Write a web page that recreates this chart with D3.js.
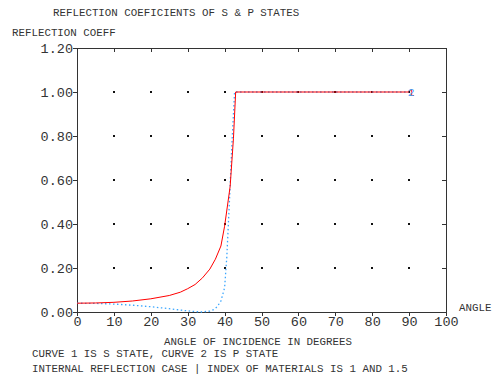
<!DOCTYPE html>
<html>
<head>
<meta charset="utf-8">
<script src="https://cdn.jsdelivr.net/npm/d3@7"></script>
<style>
  body { margin: 0; background: #fff; }
  svg text { font-family: "Liberation Mono", monospace; font-size: 10.8px; fill: #333; }
  .axis path, .axis line { stroke: #333; shape-rendering: crispEdges; }
</style>
</head>
<body>
<svg id="chart" width="494" height="379"></svg>
<script>
// angle of incidence (deg) and reflection coefficient
var sAngles = [0, 5, 10, 15, 20, 25, 28, 30, 32, 34, 36, 37.5, 39, 40, 41.5, 42.4, 43, 50, 60, 70, 80, 90];
var sValues = [0.040, 0.041, 0.044, 0.050, 0.060, 0.075, 0.090, 0.106, 0.125, 0.155, 0.195, 0.240, 0.300, 0.390, 0.570, 0.790, 1.0, 1.0, 1.0, 1.0, 1.0, 1.0];
var pAngles = [0, 5, 10, 15, 20, 25, 30, 33.7, 36, 37, 38, 39, 40, 40.6, 41.3, 42, 42.7, 50, 60, 70, 80, 90];
var pValues = [0.040, 0.039, 0.036, 0.031, 0.024, 0.015, 0.005, 0.0, 0.004, 0.011, 0.024, 0.050, 0.110, 0.250, 0.500, 0.770, 1.0, 1.0, 1.0, 1.0, 1.0, 1.0];
var xTicks = [0, 10, 20, 30, 40, 50, 60, 70, 80, 90, 100];
var yTicks = [0, 0.2, 0.4, 0.6, 0.8, 1.0, 1.2];

var svg = d3.select("#chart");
var x = d3.scaleLinear().domain([0, 100]).range([77, 446]);
var y = d3.scaleLinear().domain([0, 1.2]).range([312, 48]);

// grid dots at tick crossings
var dots = [];
xTicks.slice(1, -1).forEach(function (a) {
  yTicks.slice(1, -1).forEach(function (b) { dots.push([a, b]); });
});
svg.append("g").selectAll("rect")
  .data(dots)
  .enter().append("rect")
  .attr("x", function (d) { return Math.round(x(d[0])) - 1; })
  .attr("y", function (d) { return Math.round(y(d[1])) - 1; })
  .attr("width", 2).attr("height", 2)
  .attr("fill", "#111");

// axes (frame)
svg.append("g").attr("class", "axis")
  .attr("transform", "translate(0,312)")
  .call(d3.axisBottom(x).tickValues(xTicks).tickSize(4).tickSizeOuter(0).tickPadding(0));
svg.append("g").attr("class", "axis")
  .attr("transform", "translate(77,0)")
  .call(d3.axisLeft(y).tickValues(yTicks).tickFormat(d3.format(".2f")).tickSize(4).tickSizeOuter(0).tickPadding(0));
svg.append("g").attr("class", "axis")
  .attr("transform", "translate(0,48)")
  .call(d3.axisBottom(x).tickValues(xTicks).tickSize(4).tickSizeOuter(0).tickFormat(""));
svg.append("g").attr("class", "axis")
  .attr("transform", "translate(446,0)")
  .call(d3.axisLeft(y).tickValues(yTicks).tickSize(4).tickSizeOuter(0).tickFormat(""));
svg.selectAll(".axis .tick text").style("font-size", "13.5px").style("font-family", "Liberation Mono, monospace").attr("fill", "#333");

var line = d3.line()
  .x(function (d) { return x(d[0]); })
  .y(function (d) { return y(d[1]); });

// curve 2: P state (dotted)
svg.append("path")
  .datum(d3.zip(pAngles, pValues))
  .attr("d", line)
  .attr("fill", "none")
  .attr("stroke", "#3aa6ff")
  .attr("stroke-width", 1.3)
  .attr("stroke-dasharray", "1.5,2.5");

// curve 1: S state
svg.append("path")
  .datum(d3.zip(sAngles, sValues))
  .attr("d", line)
  .attr("fill", "none")
  .attr("stroke", "#ff0000")
  .attr("stroke-width", 1);

// curve end labels
var last = sAngles.length - 1;
svg.append("text")
  .attr("x", x(sAngles[last]) - 1).attr("y", y(sValues[last]) + 4)
  .style("fill", "#ff0000").text("1");
svg.append("text")
  .attr("x", x(pAngles[last]) - 1).attr("y", y(pValues[last]) + 4)
  .style("fill", "#3aa6ff").text("2");

// texts
svg.append("text").attr("x", 53).attr("y", 16).text("REFLECTION COEFICIENTS OF S & P STATES");
svg.append("text").attr("x", 12).attr("y", 36).text("REFLECTION COEFF");
svg.append("text").attr("x", 459).attr("y", 311).text("ANGLE");
svg.append("text").attr("x", 258).attr("y", 345).attr("text-anchor", "middle").text("ANGLE OF INCIDENCE IN DEGREES");
svg.append("text").attr("x", 32).attr("y", 357).text("CURVE 1 IS S STATE, CURVE 2 IS P STATE");
svg.append("text").attr("x", 32).attr("y", 372).text("INTERNAL REFLECTION CASE | INDEX OF MATERIALS IS 1 AND 1.5");
</script>
</body>
</html>
